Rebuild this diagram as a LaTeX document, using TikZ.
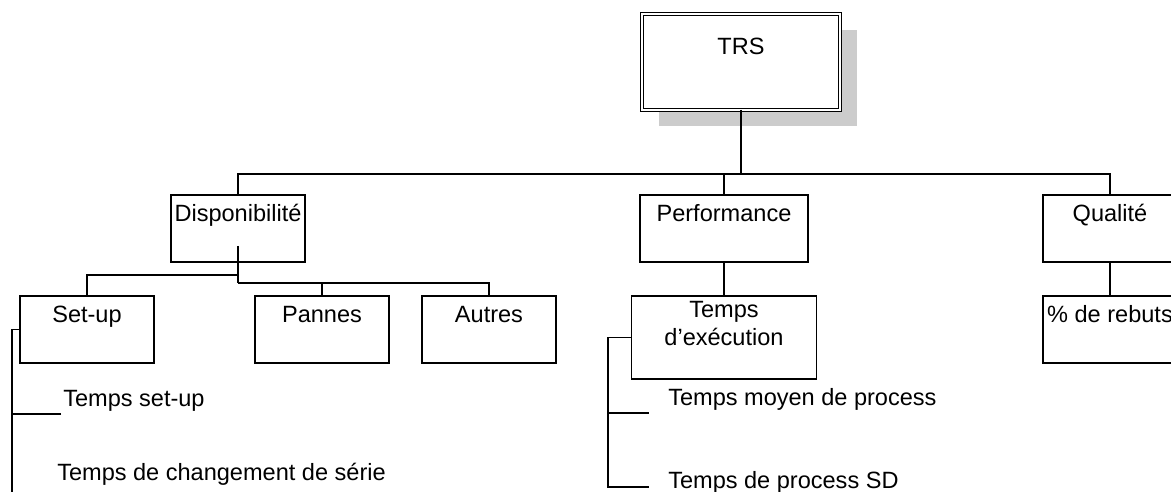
\documentclass[tikz,border=0pt]{standalone}
\usepackage{fontspec}
\setmainfont{Liberation Sans}
\usetikzlibrary{shadows}
\definecolor{cshadow}{RGB}{204,204,204}

\begin{document}
\begin{tikzpicture}[x=0.02cm,y=-0.02cm,line width=0.6pt,
  font=\fontsize{13.4pt}{16.4pt}\selectfont,
  head/.style={draw,double,double distance=1.2pt,fill=white,inner sep=0pt,outer sep=0pt,
    minimum width=3.96cm,text height=0.82cm,text depth=1.1cm,anchor=north,
    drop shadow={shadow xshift=0.34cm,shadow yshift=-0.32cm,fill=cshadow,opacity=1}},
  unit/.style={draw,fill=white,inner sep=0pt,outer sep=0pt,minimum width=2.68cm,
    text height=0.54cm,text depth=0.8cm,anchor=north},
  item/.style={inner sep=1pt,anchor=south west},
  trunk/.style={line width=1.2pt}]
  \useasboundingbox (0,0) rectangle (1171,492);
  \node[head] (trs) at (741,14) {TRS};
  \node[unit] (dispo) at (238,195) {Disponibilité};
  \node[unit,minimum width=3.36cm] (perf) at (724,195) {Performance};
  \node[unit] (qual) at (1110,195) {Qualité};
  \node[unit] (setup) at (87,296) {Set-up};
  \node[unit] (pannes) at (322,296) {Pannes};
  \node[unit] (autres) at (489,296) {Autres};
  \node[unit,minimum width=3.7cm,align=center,text height=1.0cm,text depth=0.66cm] (exec) at (724,296) {Temps\\d’exécution};
  \node[unit] (rebuts) at (1110,296) {\% de rebuts};
  % sub items
  \node[item] (tsetup) at (61,414) {Temps set-up};
  \node[item] (tserie) at (55,488) {Temps de changement de série};
  \node[item] (tmoyen) at (666,413) {Temps moyen de process};
  \node[item] (tsd) at (666,496) {Temps de process SD};
  \coordinate (hub) at (724,174);
  \coordinate (dfork) at (238,283);
  \coordinate (sfoot) at (12,494);
  \coordinate (pfoot) at (608,487);
  % connectors
  \draw[trunk] (trs.south) |- (hub);
  \draw (dispo.north) |- (hub) -| (qual.north);
  \draw (hub) -- (perf.north);
  \draw[trunk] (dispo.south) ++(0,-16) -- (dfork);
  \draw (dfork) ++(0,-8) -| (setup.north);
  \draw (dfork) -| (autres.north);
  \draw (pannes.north) -- (pannes.north |- dfork);
  \draw (perf.south) -- (exec.north);
  \draw (qual.south) -- (rebuts.north);
  \draw (setup.west) -| (sfoot);
  \draw (tsetup.south west) -- (tsetup.south west -| sfoot);
  \draw (exec.west) -| (pfoot) -- ++(41,0);
  \draw (pfoot |- tmoyen.south) -- ++(41,0);
\end{tikzpicture}
\end{document}
